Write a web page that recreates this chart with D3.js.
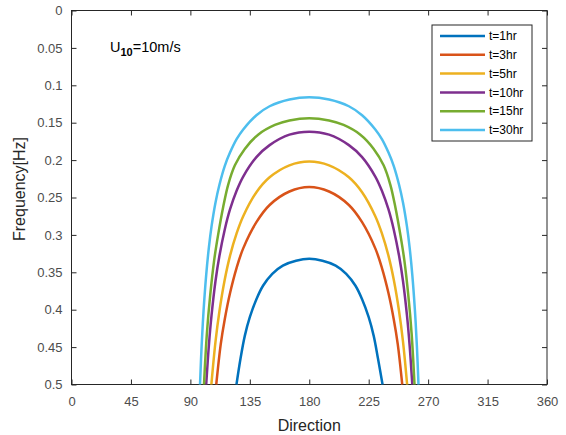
<!DOCTYPE html>
<html>
<head>
<meta charset="utf-8">
<script src="https://cdn.jsdelivr.net/npm/d3@7"></script>
<style>
    body { margin: 0; background: #fff; }
    #chart { width: 566px; height: 435px; }
    text { font-family: "Liberation Sans", Arial, sans-serif; fill: #262626; }
</style>
</head>
<body>
<div id="chart"></div>
<script>
// data: [direction, frequency]
var labels = ['t=1hr', 't=3hr', 't=5hr', 't=10hr', 't=15hr', 't=30hr'];
var colors = ['#0072BD', '#D95319', '#EDB120', '#7E2F8E', '#77AC30', '#4DBEEE'];

var t1 = [[124.9,.5],[128,.465],[131.2,.435],[135,.41],[140,.386],[145,.368],[152,.352],[160,.341],[170,.3345],[180,.332],
          [190,.3345],[200,.341],[208,.352],[215,.368],[220,.386],[225,.41],[228.8,.435],[232,.465],[235.5,.5]];
var t3 = [[109.6,.5],[113,.446],[116,.413],[120,.378],[125,.344],[130,.318],[140,.283],[150,.26],[165,.242],[180,.236],
          [195,.242],[210,.26],[220,.283],[230,.318],[235,.344],[240,.378],[244,.413],[247,.446],[250.4,.5]];
var t5 = [[105.9,.5],[109,.443],[112,.402],[116,.36],[120,.328],[125,.298],[130,.275],[140,.243],[150,.223],[165,.207],[180,.202],
          [195,.207],[210,.223],[220,.243],[230,.275],[235,.298],[240,.328],[244,.36],[248,.402],[251,.443],[254.1,.5]];
var t10 = [[102,.5],[104,.448],[106,.408],[109,.362],[112,.328],[116,.293],[120,.266],[125,.241],[130,.222],[140,.196],[150,.18],[165,.166],[180,.162],
           [195,.166],[210,.18],[220,.196],[230,.222],[235,.241],[240,.266],[244,.293],[248,.328],[251,.362],[254,.408],[256,.448],[258,.5]];
var t15 = [[100.3,.5],[102.5,.432],[105,.381],[108,.334],[111,.3],[114.8,.263],[118.6,.233],[123.7,.207],[131.2,.185],[141.3,.166],[154,.153],[165,.147],[180,.144],
           [195,.147],[206,.153],[218.7,.166],[228.8,.185],[236.3,.207],[241.4,.233],[245.2,.263],[249,.3],[252,.334],[255,.381],[257.5,.432],[259.7,.5]];
var t30 = [[97.3,.5],[98.5,.449],[100,.401],[102,.353],[104,.317],[106,.289],[109,.257],[112,.233],[116,.208],[120,.19],[125,.172],[130,.159],[140,.14],[150,.128],[165,.119],[180,.116],
           [195,.119],[210,.128],[220,.14],[230,.159],[235,.172],[240,.19],[244,.208],[248,.233],[251,.257],[254,.289],[256,.317],[258,.353],[260,.401],[261.5,.449],[262.7,.5]];
var series = [t1, t3, t5, t10, t15, t30];

var xTicks = [0, 45, 90, 135, 180, 225, 270, 315, 360];
var yTicks = [0, 0.05, 0.1, 0.15, 0.2, 0.25, 0.3, 0.35, 0.4, 0.45, 0.5];

// svg size
var chartWidth = 566, chartHeight = 435;
var plotLeft = 71.5, plotRight = 547, plotTop = 10.5, plotBottom = 384.5;

var svg = d3.select('#chart')
    .append('svg')
        .attr('width', chartWidth)
        .attr('height', chartHeight);

var x = d3.scaleLinear().domain([0, 360]).range([plotLeft, plotRight]);
var y = d3.scaleLinear().domain([0, 0.5]).range([plotTop, plotBottom]);

// frame
svg.append('rect')
    .attr('x', plotLeft).attr('y', plotTop)
    .attr('width', plotRight - plotLeft).attr('height', plotBottom - plotTop)
    .style('fill', 'none').style('stroke', '#262626').style('stroke-width', 1);

function styleAxis(g) {
    g.select('.domain').remove();
    g.selectAll('.tick line').style('stroke', '#262626');
    g.selectAll('.tick text').style('font-size', '13px').style('fill', '#4d4d4d');
}

svg.append('g')
    .attr('transform', 'translate(0,' + plotBottom + ')')
    .call(d3.axisBottom(x).tickValues(xTicks).tickSizeInner(-5).tickSizeOuter(0).tickPadding(12))
    .call(styleAxis);
svg.append('g')
    .attr('transform', 'translate(0,' + plotTop + ')')
    .call(d3.axisTop(x).tickValues(xTicks).tickSizeInner(-5).tickSizeOuter(0).tickFormat(''))
    .call(styleAxis);
svg.append('g')
    .attr('transform', 'translate(' + plotLeft + ',0)')
    .call(d3.axisLeft(y).tickValues(yTicks).tickSizeInner(-5).tickSizeOuter(0).tickPadding(9)
        .tickFormat(function(d) { return d3.format('~g')(d); }))
    .call(styleAxis);
svg.append('g')
    .attr('transform', 'translate(' + plotRight + ',0)')
    .call(d3.axisRight(y).tickValues(yTicks).tickSizeInner(-5).tickSizeOuter(0).tickFormat(''))
    .call(styleAxis);

// curves
var line = d3.line()
    .x(function(d) { return x(d[0]); })
    .y(function(d) { return y(d[1]); })
    .curve(d3.curveCatmullRom.alpha(0.5));

svg.append('g')
    .selectAll('path')
    .data(series)
    .enter().append('path')
        .attr('d', line)
        .style('fill', 'none')
        .style('stroke', function(d, i) { return colors[i]; })
        .style('stroke-width', 2.5);

// axis titles
svg.append('text')
    .attr('x', (plotLeft + plotRight) / 2).attr('y', 431)
    .style('text-anchor', 'middle').style('font-size', '16px')
    .text('Direction');
svg.append('text')
    .attr('transform', 'translate(25,189) rotate(-90)')
    .style('text-anchor', 'middle').style('font-size', '16px')
    .text('Frequency[Hz]');

// annotation
var ann = svg.append('text')
    .attr('x', 110).attr('y', 52)
    .style('font-size', '14.5px').style('fill', '#000');
ann.append('tspan').text('U');
ann.append('tspan').attr('dy', 4).style('font-size', '11px').style('font-weight', 'bold').text('10');
ann.append('tspan').attr('dy', -4).text('=10m/s');

// legend
var legend = svg.append('g');
legend.append('rect')
    .attr('x', 432).attr('y', 25).attr('width', 100).attr('height', 116)
    .style('fill', '#fff').style('stroke', '#262626').style('stroke-width', 1);
var rows = legend.selectAll('g.row')
    .data(labels)
    .enter().append('g')
        .attr('class', 'row')
        .attr('transform', function(d, i) { return 'translate(0,' + (36 + i * 18.8) + ')'; });
rows.append('line')
    .attr('x1', 440).attr('x2', 485)
    .style('stroke', function(d, i) { return colors[i]; })
    .style('stroke-width', 2.5);
rows.append('text')
    .attr('x', 489).attr('dy', '0.35em')
    .style('font-size', '12px').style('fill', '#000')
    .text(function(d) { return d; });
</script>
</body>
</html>
